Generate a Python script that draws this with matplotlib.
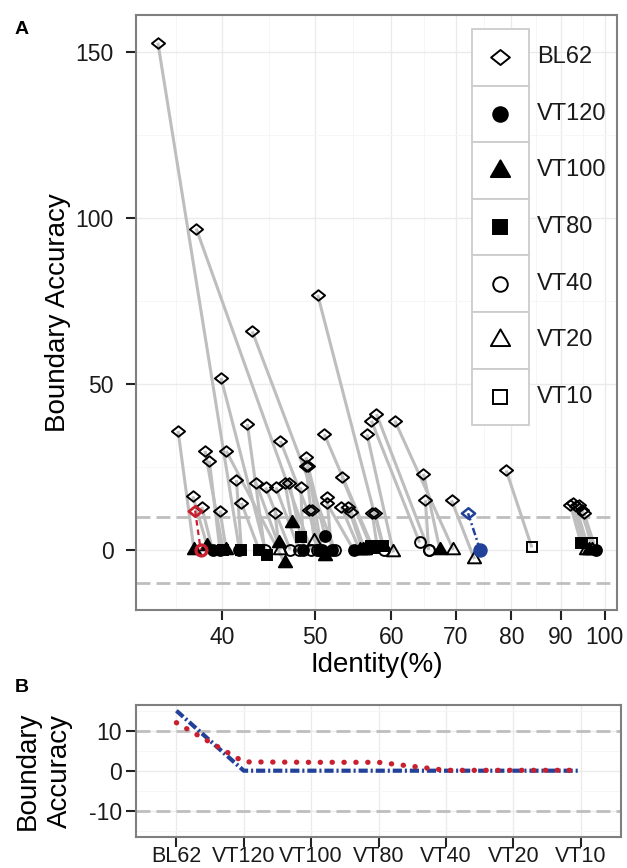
import matplotlib
matplotlib.use('Agg')
import matplotlib.pyplot as plt
from matplotlib.path import Path
from matplotlib.patches import Rectangle
from matplotlib.ticker import FixedLocator, FixedFormatter, NullFormatter

plt.rcParams['font.family'] = ['Liberation Sans', 'DejaVu Sans']
plt.rcParams['axes.unicode_minus'] = False

# panel A: each alignment at BL62 and at the matrix giving its best boundary accuracy
bl62_identity = [34.3, 37.6, 50.3, 43.0, 39.9, 36.0, 42.5, 38.4, 40.4, 38.8,
                 46.0, 51.1, 56.6, 57.2, 57.9, 48.9, 48.9, 49.1, 41.4, 43.4,
                 44.4, 45.5, 46.5, 47.0, 48.3, 53.3, 37.3, 38.1, 39.8, 41.9,
                 45.4, 49.3, 49.6, 51.4, 51.4, 53.2, 54.1, 54.5, 57.3, 57.7,
                 60.5, 64.8, 65.1, 69.3, 79.0, 92.1, 92.6, 93.3, 94.0, 94.8, 95.2]
bl62_accuracy = [152.8, 96.8, 76.8, 65.8, 51.8, 35.8, 37.9, 29.8, 29.8, 26.8,
                 32.8, 34.8, 34.8, 38.9, 40.9, 27.9, 25.1, 25.1, 21.0, 20.1,
                 18.8, 18.8, 20.1, 20.1, 18.8, 21.9, 16.1, 12.9, 11.8, 14.1,
                 11.0, 12.0, 12.0, 15.9, 14.1, 13.0, 13.0, 11.5, 11.0, 11.0,
                 38.9, 22.9, 14.9, 14.9, 23.9, 13.6, 14.1, 13.1, 13.6, 12.0, 11.0]
best_identity = [41.7, 49.5, 58.8, 52.4, 44.5, 37.4, 44.3, 40.1, 46.5, 39.8,
                 51.2, 57.4, 60.3, 64.2, 65.6, 51.2, 49.9, 50.8, 41.9, 46.0,
                 47.1, 48.1, 47.3, 48.3, 48.6, 57.1, 38.6, 39.1, 40.4, 43.7,
                 45.8, 50.2, 50.5, 52.0, 54.8, 55.6, 56.0, 56.3, 58.0, 59.0,
                 69.6, 67.4, 65.6, 73.2, 84.0, 94.5, 95.6, 96.3, 97.0, 97.1, 97.9]
best_accuracy = [0.0, 0.0, 1.0, 0.0, -1.5, 0.0, 0.0, 0.0, -4.0, 0.0,
                 -1.8, 0.6, -0.8, 2.2, 0.0, 4.0, 2.5, 0.0, 0.0, 0.0,
                 0.0, 0.0, 8.0, 3.8, 0.0, 1.0, 1.2, 0.0, 0.0, 0.0,
                 2.0, 0.0, 0.0, 0.0, 0.0, 0.0, 0.0, 0.0, 1.0, 0.0,
                 0.0, 0.0, 0.0, -2.8, 0.7, 2.0, 0.0, 0.0, 2.0, 0.0, 0.0]
best_matrix = ['VT120', 'VT40', 'VT80', 'VT40', 'VT80', 'VT100', 'VT40', 'VT80', 'VT100', 'VT120',
               'VT100', 'VT80', 'VT20', 'VT40', 'VT40', 'VT120', 'VT20', 'VT120', 'VT80', 'VT20',
               'VT40', 'VT40', 'VT100', 'VT80', 'VT120', 'VT80', 'VT100', 'VT120', 'VT100', 'VT80',
               'VT100', 'VT40', 'VT120', 'VT120', 'VT120', 'VT100', 'VT20', 'VT100', 'VT80', 'VT40',
               'VT20', 'VT100', 'VT40', 'VT20', 'VT10', 'VT80', 'VT20', 'VT100', 'VT10', 'VT20', 'VT120']

# the two highlighted alignments (shown again in panel B)
red_identity = [37.5, 38.0]
red_accuracy = [11.8, 0.0]
blue_identity = [72.1, 74.2]
blue_accuracy = [11.0, 0.0]

# panel B
matrices = ['BL62', 'VT120', 'VT100', 'VT80', 'VT40', 'VT20', 'VT10']
red_curve = [12.0, 2.2, 2.1, 2.1, 0.1, 0.1, 0.1]
blue_curve = [15.0, 0.0, 0.0, 0.0, 0.0, 0.0, 0.0]

RED = '#C8202F'
BLUE = '#22429A'
GREY_LINE = '#BEBEBE'

DIAMOND = Path([(-1, 0), (0, 0.8), (1, 0), (0, -0.8), (-1, 0)], closed=True)
TRIANGLE = Path([(-1, -0.577), (1, -0.577), (0, 1.155), (-1, -0.577)], closed=True)

# marker, filled, size in plot, size in legend
styles = {
    'BL62': (DIAMOND, False, 9.5, 13.5),
    'VT120': ('o', True, 7.8, 10.5),
    'VT100': (TRIANGLE, True, 11, 16),
    'VT80': ('s', True, 7.2, 10),
    'VT40': ('o', False, 7.8, 10.5),
    'VT20': (TRIANGLE, False, 11, 16),
    'VT10': ('s', False, 7.2, 10),
}


def marker_kw(name, legend=False, color='black'):
    m, filled, ms, lms = styles[name]
    return dict(marker=m, ms=lms if legend else ms, mec=color,
                mfc=color if filled else 'none', mew=1.4, linestyle='none')


def style_axes(ax):
    for s in ax.spines.values():
        s.set_color('#7F7F7F')
        s.set_linewidth(1.5)
    ax.tick_params(which='major', direction='out', length=7, width=1.5,
                   color='#222222', labelcolor='#1A1A1A', pad=3)
    ax.tick_params(which='minor', length=0)
    ax.grid(which='major', color='#EBEBEB', lw=1.0)
    ax.grid(which='minor', color='#F6F6F6', lw=0.7)
    ax.set_axisbelow(True)


fig = plt.figure(figsize=(6.27, 8.68), dpi=100)

# ---------------- panel A ----------------
ax = fig.add_axes([136 / 627, 1 - 610 / 868, 481 / 627, 595 / 868])
ax.set_xscale('log')
ax.set_xlim(32.55, 103.0)
ax.set_ylim(-18.15, 161.15)

xt = [40, 50, 60, 70, 80, 90, 100]
ax.xaxis.set_major_locator(FixedLocator(xt))
ax.xaxis.set_major_formatter(FixedFormatter([str(v) for v in xt]))
ax.xaxis.set_minor_locator(FixedLocator([35.78, 44.72, 54.77, 64.81, 74.83, 84.85, 94.87]))
ax.xaxis.set_minor_formatter(NullFormatter())
ax.yaxis.set_major_locator(FixedLocator([0, 50, 100, 150]))
ax.yaxis.set_minor_locator(FixedLocator([25, 75, 125]))
style_axes(ax)
ax.tick_params(axis='both', labelsize=16.5)
ax.tick_params(axis='x', pad=4.5)
ax.tick_params(axis='y', pad=9)

for yv in (10, -10):
    ax.axhline(yv, color=GREY_LINE, lw=2, linestyle=(0, (5, 2.2)), zorder=1.5)

for x0, y0, x1, y1 in zip(bl62_identity, bl62_accuracy, best_identity, best_accuracy):
    ax.plot([x0, x1], [y0, y1], color=GREY_LINE, lw=2.2, solid_capstyle='butt', zorder=2)

ax.plot(bl62_identity, bl62_accuracy, zorder=3, **marker_kw('BL62'))
for name in matrices[1:]:
    xs = [x for x, m in zip(best_identity, best_matrix) if m == name]
    ys = [y for y, m in zip(best_accuracy, best_matrix) if m == name]
    ax.plot(xs, ys, zorder=3, **marker_kw(name))

ax.plot(red_identity, red_accuracy, color=RED, lw=1.6, linestyle=(0, (2.5, 1.8)), zorder=4)
kw = marker_kw('BL62', color=RED); kw['mew'] = 2.0
ax.plot(red_identity[:1], red_accuracy[:1], zorder=5, **kw)
kw = marker_kw('VT40', color=RED); kw['mew'] = 2.4
ax.plot(red_identity[1:], red_accuracy[1:], zorder=5, **kw)

ax.plot(blue_identity, blue_accuracy, color=BLUE, lw=1.8, linestyle=(0, (3, 1.2, 0.8, 1.2)), zorder=4)
kw = marker_kw('BL62', color=BLUE); kw['mew'] = 1.8
ax.plot(blue_identity[:1], blue_accuracy[:1], zorder=5, **kw)
kw = marker_kw('VT120', color=BLUE); kw['ms'] = 9
ax.plot(blue_identity[1:], blue_accuracy[1:], zorder=5, **kw)

ax.set_xlabel('Identity(%)', fontsize=20)
ax.xaxis.set_label_coords(0.5, -0.0706)
ax.set_ylabel('Boundary Accuracy', fontsize=20)
ax.yaxis.set_label_coords(-0.135, 0.5)


# legend: key cells drawn in axes fractions
def ax_x(px):
    return (px - 136) / 481


def ax_y(py):
    return (610 - py) / 595


cell_top = 29.0
cell_h = 56.6
for i, name in enumerate(matrices):
    top = cell_top + i * cell_h
    ax.add_patch(Rectangle((ax_x(471.7), ax_y(top + cell_h)), ax_x(529) - ax_x(471.7),
                           cell_h / 595, transform=ax.transAxes, facecolor='white',
                           edgecolor='#CCCCCC', lw=1.3, zorder=6, clip_on=False))
    ax.plot([ax_x(500.3)], [ax_y(top + cell_h / 2)], transform=ax.transAxes,
            zorder=7, clip_on=False, **marker_kw(name, legend=True))
    ax.text(ax_x(537), ax_y(top + cell_h / 2), name, transform=ax.transAxes,
            fontsize=17, ha='left', va='center', color='#1A1A1A', zorder=7)

# ---------------- panel B ----------------
bx = fig.add_axes([136 / 627, 1 - 836.7 / 868, 485 / 627, 132 / 868])
pos = list(range(1, len(matrices) + 1))
bx.set_xlim(0.4, 7.6)
bx.set_ylim(-16.5, 16.5)
bx.xaxis.set_major_locator(FixedLocator(pos))
bx.xaxis.set_major_formatter(FixedFormatter(matrices))
bx.yaxis.set_major_locator(FixedLocator([-10, 0, 10]))
bx.yaxis.set_minor_locator(FixedLocator([-15, -5, 5, 15]))
bx.yaxis.set_minor_formatter(NullFormatter())
style_axes(bx)
bx.tick_params(axis='x', labelsize=15.5, pad=0)
bx.tick_params(axis='y', labelsize=16.5)

for yv in (10, -10):
    bx.axhline(yv, color=GREY_LINE, lw=2, linestyle=(0, (5, 2.2)), zorder=1.5)

bx.plot(pos, blue_curve, color=BLUE, lw=3.0, linestyle=(0, (2.2, 0.7, 0.5, 0.7)), zorder=3)
bx.plot(pos, red_curve, color=RED, lw=3.8, linestyle=(0, (0.05, 2.2)),
        dash_capstyle='round', zorder=4)

bx.set_ylabel('Boundary\nAccuracy', fontsize=20, linespacing=1.3)
bx.yaxis.set_label_coords(-0.13, 0.5)

fig.text(15 / 627, 1 - 30 / 868, 'A', fontsize=14, fontweight='bold', va='center')
fig.text(15 / 627, 1 - 687 / 868, 'B', fontsize=14, fontweight='bold', va='center')

fig.savefig('out.png', dpi=100)
